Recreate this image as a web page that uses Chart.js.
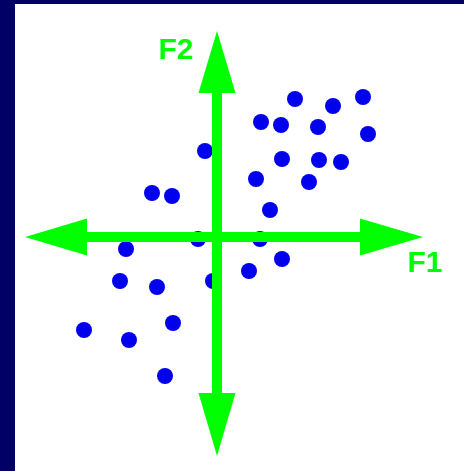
<!DOCTYPE html>
<html lang="en">
<head>
    <meta charset="UTF-8">
    <title>F1 F2</title>
    <style>
        html, body { margin: 0; padding: 0; }
        body { background: #000066; width: 464px; height: 471px; overflow: hidden; position: relative; }
        .panel { position: absolute; left: 15px; top: 4px; width: 449px; height: 467px; background: #ffffff; }
    </style>
</head>
<body>

    <!--chart panel start-->
    <div class="panel">
        <canvas id="chart" width="449" height="467"></canvas>
    </div>
    <!--chart panel end-->

    <script src="https://cdn.jsdelivr.net/npm/chart.js@4.4.1/dist/chart.umd.min.js"></script>
    <script>

    // factor scores of the individuals (F1, F2)
    const f1 = [7.8, 11.6, 14.6, 4.4, 6.4, 10.1, 15.1, -1.2, 6.5, 10.2, 12.4, 3.9, 9.2, -6.5,
                -4.5, 5.3, -1.9, 4.3, -9.1, 6.5, 3.2, -9.7, -6.0, -0.4, -4.4, -13.3, -8.8, -5.2];
    const f2 = [13.8, 13.1, 14.0, 11.5, 11.2, 11.0, 10.3, 8.6, 7.8, 7.7, 7.5, 5.8, 5.5, 4.4,
                4.1, 2.7, -0.2, -0.2, -1.2, -2.2, -3.4, -4.4, -5.0, -4.4, -8.6, -9.3, -10.3, -13.9];

    // axis arrows in factor units: tips and arrow-head bases
    const axisF1 = { from: -19.2, headL: -13.0, headR: 14.3, to: 20.6, half: 1.85 };
    const axisF2 = { from: -21.9, headB: -15.6, headT: 14.4, to: 20.6, half: 1.85 };
    const axisLabels = [
        { text: 'F1', x: 20.8, y: -2.7 },
        { text: 'F2', x: -4.1, y: 18.6 }
    ];

    const points = f1.map((v, i) => ({ x: v, y: f2[i] }));

    // draws the two green double arrows and their labels
    const arrowPlugin = {
        id: 'arrows',
        afterDatasetsDraw(chart) {
            const ctx = chart.ctx;
            const xs = chart.scales.x;
            const ys = chart.scales.y;
            const X = v => xs.getPixelForValue(v);
            const Y = v => ys.getPixelForValue(v);
            const green = '#00ff00';

            ctx.save();
            ctx.strokeStyle = green;
            ctx.fillStyle = green;
            ctx.lineWidth = 10;

            // F1 shaft
            ctx.beginPath();
            ctx.moveTo(X(axisF1.headL), Y(0));
            ctx.lineTo(X(axisF1.headR), Y(0));
            ctx.stroke();
            // F1 heads
            ctx.beginPath();
            ctx.moveTo(X(axisF1.from), Y(0));
            ctx.lineTo(X(axisF1.headL), Y(axisF1.half));
            ctx.lineTo(X(axisF1.headL), Y(-axisF1.half));
            ctx.closePath();
            ctx.fill();
            ctx.beginPath();
            ctx.moveTo(X(axisF1.to), Y(0));
            ctx.lineTo(X(axisF1.headR), Y(axisF1.half));
            ctx.lineTo(X(axisF1.headR), Y(-axisF1.half));
            ctx.closePath();
            ctx.fill();

            // F2 shaft
            ctx.beginPath();
            ctx.moveTo(X(0), Y(axisF2.headB));
            ctx.lineTo(X(0), Y(axisF2.headT));
            ctx.stroke();
            // F2 heads
            ctx.beginPath();
            ctx.moveTo(X(0), Y(axisF2.to));
            ctx.lineTo(X(-axisF2.half), Y(axisF2.headT));
            ctx.lineTo(X(axisF2.half), Y(axisF2.headT));
            ctx.closePath();
            ctx.fill();
            ctx.beginPath();
            ctx.moveTo(X(0), Y(axisF2.from));
            ctx.lineTo(X(-axisF2.half), Y(axisF2.headB));
            ctx.lineTo(X(axisF2.half), Y(axisF2.headB));
            ctx.closePath();
            ctx.fill();

            // labels
            ctx.font = 'bold 30px "Liberation Sans", Arial, sans-serif';
            ctx.textAlign = 'center';
            ctx.textBaseline = 'middle';
            axisLabels.forEach(l => ctx.fillText(l.text, X(l.x), Y(l.y)));
            ctx.restore();
        }
    };

    const ctx = document.getElementById('chart').getContext('2d');

    const myChart = new Chart(ctx, {
        type: 'scatter',
        data: {
            datasets: [
                {
                    label: 'individuals',
                    data: points,
                    backgroundColor: '#0000ee',
                    borderWidth: 0,
                    pointRadius: 8,
                    pointHoverRadius: 8
                }
            ]
        },
        options: {
            responsive: false,
            animation: false,
            devicePixelRatio: 1,
            layout: { padding: 0, autoPadding: false },
            plugins: {
                legend: { display: false },
                tooltip: { enabled: false }
            },
            scales: {
                x: { type: 'linear', min: -20.2, max: 24.7, display: false },
                y: { type: 'linear', min: -23.4, max: 23.3, display: false }
            }
        },
        plugins: [arrowPlugin]
    });

    </script>

</body>
</html>
